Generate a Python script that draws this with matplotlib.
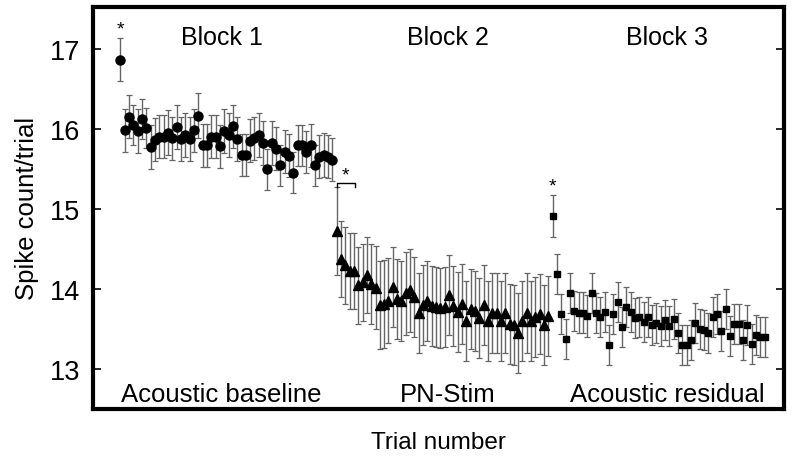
import numpy as np
import matplotlib
matplotlib.use("Agg")
import matplotlib.pyplot as plt

plt.rcParams['font.family'] = ['Liberation Sans', 'DejaVu Sans']

# block 1 - acoustic baseline (trials 1-50)
b1_mean = [16.86, 15.98, 16.15, 16.05, 15.97, 16.12, 16.01, 15.77, 15.86, 15.90,
           15.90, 15.95, 15.88, 16.02, 15.87, 15.92, 15.87, 15.98, 16.16, 15.79,
           15.79, 15.90, 15.90, 15.78, 15.97, 15.92, 16.03, 15.87, 15.67, 15.67,
           15.85, 15.88, 15.92, 15.82, 15.49, 15.82, 15.75, 15.54, 15.71, 15.66,
           15.45, 15.79, 15.79, 15.71, 15.79, 15.54, 15.65, 15.67, 15.65, 15.61]
b1_err = [0.27, 0.27, 0.27, 0.25, 0.27, 0.25, 0.25, 0.27, 0.27, 0.27,
          0.27, 0.28, 0.27, 0.27, 0.27, 0.27, 0.27, 0.27, 0.28, 0.27,
          0.27, 0.27, 0.27, 0.27, 0.27, 0.27, 0.27, 0.27, 0.26, 0.26,
          0.27, 0.27, 0.27, 0.27, 0.26, 0.27, 0.27, 0.26, 0.27, 0.27,
          0.26, 0.26, 0.26, 0.26, 0.27, 0.26, 0.27, 0.27, 0.27, 0.27]

# block 2 - PN-Stim (trials 51-100)
b2_mean = [14.72, 14.37, 14.29, 14.22, 14.22, 14.04, 14.08, 14.17, 14.06, 14.01,
           13.79, 13.81, 13.85, 14.02, 13.87, 13.85, 13.94, 13.98, 13.90, 13.70,
           13.80, 13.85, 13.78, 13.77, 13.76, 13.77, 13.92, 13.78, 13.71, 13.81,
           13.59, 13.75, 13.72, 13.63, 13.80, 13.60, 13.69, 13.69, 13.59, 13.69,
           13.56, 13.55, 13.44, 13.60, 13.69, 13.59, 13.65, 13.68, 13.54, 13.66]
b2_err = [0.55, 0.47, 0.48, 0.48, 0.48, 0.48, 0.48, 0.48, 0.50, 0.52,
          0.55, 0.55, 0.53, 0.50, 0.50, 0.50, 0.52, 0.52, 0.50, 0.50,
          0.50, 0.50, 0.50, 0.50, 0.50, 0.50, 0.50, 0.50, 0.50, 0.50,
          0.50, 0.50, 0.50, 0.50, 0.50, 0.50, 0.50, 0.50, 0.50, 0.50,
          0.50, 0.50, 0.50, 0.50, 0.50, 0.50, 0.50, 0.50, 0.50, 0.50]

# block 3 - acoustic residual (trials 101-150)
b3_mean = [14.91, 14.18, 13.68, 13.37, 13.95, 13.72, 13.70, 13.70, 13.66, 13.95,
           13.70, 13.65, 13.71, 13.29, 13.68, 13.83, 13.52, 13.77, 13.71, 13.63,
           13.64, 13.58, 13.64, 13.54, 13.57, 13.53, 13.61, 13.53, 13.62, 13.45,
           13.30, 13.29, 13.36, 13.57, 13.49, 13.48, 13.45, 13.64, 13.68, 13.47,
           13.75, 13.41, 13.56, 13.56, 13.36, 13.54, 13.31, 13.42, 13.39, 13.40]
b3_err = [0.26, 0.25, 0.25, 0.25, 0.25, 0.25, 0.26, 0.26, 0.26, 0.25,
          0.25, 0.25, 0.25, 0.25, 0.25, 0.25, 0.25, 0.25, 0.25, 0.25,
          0.25, 0.25, 0.25, 0.25, 0.25, 0.25, 0.25, 0.25, 0.25, 0.25,
          0.25, 0.25, 0.25, 0.25, 0.25, 0.25, 0.25, 0.25, 0.25, 0.25,
          0.25, 0.25, 0.25, 0.25, 0.25, 0.25, 0.25, 0.25, 0.25, 0.25]

block_titles = ["Block 1", "Block 2", "Block 3"]
block_names = ["Acoustic baseline", "PN-Stim", "Acoustic residual"]

trials1 = np.arange(1, 51)
trials2 = np.arange(51, 101)
trials3 = np.arange(101, 151)

fig = plt.figure(figsize=(8, 4.64), dpi=100)
ax = fig.add_axes([0.116, 0.117, 0.864, 0.866])

ekw = dict(ecolor="#666666", elinewidth=1, capsize=2.2, capthick=0.9, ls="none", color="black")
ax.errorbar(trials1, b1_mean, yerr=b1_err, fmt="o", ms=6.5, **ekw)
ax.errorbar(trials2, b2_mean, yerr=b2_err, fmt="^", ms=7, **ekw)
ax.errorbar(trials3, b3_mean, yerr=b3_err, fmt="s", ms=5, **ekw)

# significance markers
ax.text(1, b1_mean[0] + b1_err[0] + 0.01, "*", ha="center", va="bottom", fontsize=14)
ax.text(101, b3_mean[0] + b3_err[0] + 0.01, "*", ha="center", va="bottom", fontsize=14)
ax.plot([51, 51, 55.2, 55.2], [15.27, 15.32, 15.32, 15.27], color="black", lw=1)
ax.text(53.1, 15.32, "*", ha="center", va="bottom", fontsize=14)

mids = [24.4, 76.7, 127.5]
for m, t, n in zip(mids, block_titles, block_names):
    ax.text(m, 17.15, t, ha="center", va="center", fontsize=18)
    ax.text(m, 12.69, n, ha="center", va="center", fontsize=18.5)

ax.set_xlim(-5.4, 154.5)
ax.set_ylim(12.5, 17.52)
ax.set_yticks([13, 14, 15, 16, 17])
ax.set_xticks([])
ax.tick_params(axis="y", direction="in", length=6, width=1.2, labelsize=19.5,
               right=True, pad=9)
for s in ax.spines.values():
    s.set_linewidth(3)

ax.set_ylabel("Spike count/trial", fontsize=18.5, labelpad=8)
ax.set_xlabel("Trial number", fontsize=17.5, labelpad=16)

fig.savefig("out.png", dpi=100)
